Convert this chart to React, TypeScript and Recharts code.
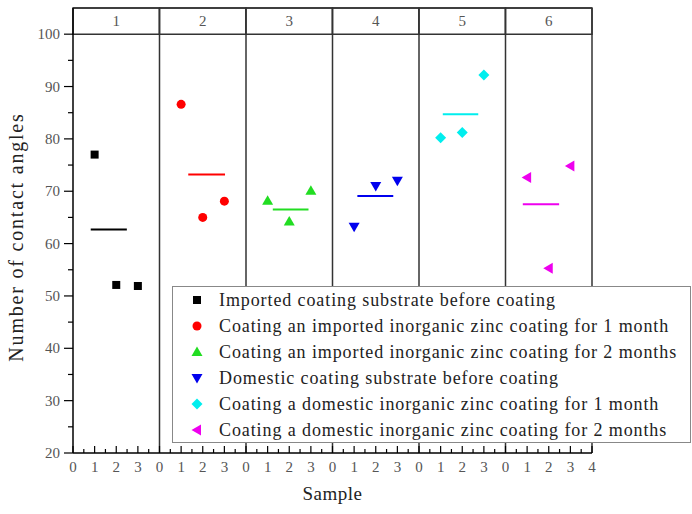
import {
	ScatterChart,
	Scatter,
	XAxis,
	YAxis,
	ReferenceLine,
	ReferenceArea,
	Legend,
} from "recharts";

const panels = ["1", "2", "3", "4", "5", "6"];
const sampleX = [1, 2, 3];

const seriesNames = [
	"Imported coating substrate before coating",
	"Coating an imported inorganic zinc coating for 1 month",
	"Coating an imported inorganic zinc coating for 2 months",
	"Domestic coating substrate before coating",
	"Coating a domestic inorganic zinc coating for 1 month",
	"Coating a domestic inorganic zinc coating for 2 months",
];
const seriesColors = ["#000000", "#ff0000", "#22dd22", "#0000ee", "#00eeee", "#ee00ee"];
const seriesShapes = ["square", "circle", "up", "down", "diamond", "left"];

const importedBefore = [77.0, 52.1, 51.9];
const imported1Month = [86.6, 65.0, 68.1];
const imported2Months = [68.2, 64.2, 70.1];
const domesticBefore = [63.2, 71.0, 72.0];
const domestic1Month = [80.2, 81.2, 92.2];
const domestic2Months = [72.6, 55.3, 74.8];
const seriesValues = [
	importedBefore,
	imported1Month,
	imported2Months,
	domesticBefore,
	domestic1Month,
	domestic2Months,
];

// mean bar per panel: value and where it starts/ends inside the panel (0-4)
const meanValues = [62.7, 73.2, 66.5, 69.1, 84.7, 67.5];
const meanStart = [0.82, 1.33, 1.24, 1.15, 1.1, 0.8];
const meanEnd = [2.49, 3.03, 2.89, 2.81, 2.74, 2.48];

const yTicks = [20, 25, 30, 35, 40, 45, 50, 55, 60, 65, 70, 75, 80, 85, 90, 95, 100];
const xTicks = Array.from({ length: 49 }, (_, i) => i / 2);

const PANEL = 4;
const serif = "'Liberation Serif', 'Times New Roman', Tinos, 'DejaVu Serif', 'Noto Serif', FreeSerif, serif";

function Marker({ cx, cy, shape, color }: any) {
	switch (shape) {
		case "square":
			return <rect x={cx - 4} y={cy - 4} width={8} height={8} fill={color} />;
		case "circle":
			return <circle cx={cx} cy={cy} r={4.5} fill={color} />;
		case "up":
			return <path d={`M${cx},${cy - 5.5} L${cx + 5.5},${cy + 4} L${cx - 5.5},${cy + 4} Z`} fill={color} />;
		case "down":
			return <path d={`M${cx},${cy + 5.5} L${cx + 5.5},${cy - 4} L${cx - 5.5},${cy - 4} Z`} fill={color} />;
		case "diamond":
			return <path d={`M${cx},${cy - 5.5} L${cx + 5.5},${cy} L${cx},${cy + 5.5} L${cx - 5.5},${cy} Z`} fill={color} />;
		default:
			return <path d={`M${cx - 5.5},${cy} L${cx + 4},${cy - 5.5} L${cx + 4},${cy + 5.5} Z`} fill={color} />;
	}
}

const XTick = ({ x, y, payload }: any) => {
	const v = payload.value;
	const major = Number.isInteger(v);
	const label = v === 24 ? "4" : String(v % PANEL);
	return (
		<g>
			<line x1={x} x2={x} y1={y} y2={y - (major ? 7 : 4)} stroke="#000" strokeWidth={1.2} />
			{major && (
				<text x={x} y={y + 19} textAnchor="middle" fontSize={15} fill="#555" fontFamily={serif}>
					{label}
				</text>
			)}
		</g>
	);
};

const YTick = ({ x, y, payload }: any) => {
	const v = payload.value;
	const major = v % 10 === 0;
	return (
		<g>
			<line x1={x} x2={x - (major ? 9 : 5)} y1={y} y2={y} stroke="#000" strokeWidth={1.2} />
			{major && (
				<text x={x - 13} y={y + 5} textAnchor="end" fontSize={15} fill="#555" fontFamily={serif}>
					{v}
				</text>
			)}
		</g>
	);
};

const LegendBox = () => (
	<div
		style={{
			background: "#fff",
			border: "1px solid #888",
			boxSizing: "border-box",
			width: 519,
			height: 157,
			padding: "0 0 0 14px",
			fontFamily: serif,
			fontSize: 18,
			letterSpacing: 0.9,
			color: "#222",
		}}
	>
		{seriesNames.map((name, i) => (
			<div key={name} style={{ display: "flex", alignItems: "center", height: 26 }}>
				<svg width={20} height={16} style={{ marginRight: 12, flex: "none" }}>
					<Marker cx={10} cy={8} shape={seriesShapes[i]} color={seriesColors[i]} />
				</svg>
				<span style={{ whiteSpace: "nowrap" }}>{name}</span>
			</div>
		))}
	</div>
);

export default function App() {
	return (
		<div style={{ position: "absolute", left: 0, top: 0 }}>
			<ScatterChart width={692} height={514} margin={{ top: 8, right: 100, bottom: 0, left: 0 }}>
				<XAxis
					type="number"
					dataKey="x"
					domain={[0, 24]}
					ticks={xTicks}
					interval={0}
					height={61}
					tickSize={0}
					tickMargin={0}
					tickLine={false}
					tick={<XTick />}
					axisLine={{ stroke: "#000", strokeWidth: 1.5 }}
					label={{
						content: ({ viewBox }: any) => (
							<text
								x={viewBox.x + viewBox.width / 2}
								y={viewBox.y + 47}
								textAnchor="middle"
								fontSize={19}
								letterSpacing={0.5}
								fill="#222"
								fontFamily={serif}
							>
								Sample
							</text>
						),
					}}
				/>
				<YAxis
					type="number"
					dataKey="y"
					domain={[20, 105]}
					ticks={yTicks}
					interval={0}
					width={73}
					tickSize={0}
					tickMargin={0}
					tickLine={false}
					tick={<YTick />}
					axisLine={{ stroke: "#000", strokeWidth: 1.5 }}
					label={{
						content: () => (
							<text
								x={0}
								y={0}
								transform="translate(23,237) rotate(-90)"
								textAnchor="middle"
								fontSize={20}
								letterSpacing={1.8}
								fill="#222"
								fontFamily={serif}
							>
								Number of contact angles
							</text>
						),
					}}
				/>
				{panels.map((p, i) => (
					<ReferenceArea
						key={p}
						x1={i * PANEL}
						x2={(i + 1) * PANEL}
						y1={100}
						y2={105}
						fill="#fff"
						fillOpacity={1}
						stroke="#333"
						strokeWidth={1.5}
						label={{ value: p, position: "center", fontSize: 15, fill: "#555", fontFamily: serif }}
					/>
				))}
				{[1, 2, 3, 4, 5, 6].map((k) => (
					<ReferenceLine key={k} x={k * PANEL} stroke="#333" strokeWidth={1.5} />
				))}
				<ReferenceLine y={105} stroke="#333" strokeWidth={1.5} />
				{meanValues.map((m, i) => (
					<ReferenceLine
						key={"mean" + i}
						segment={[
							{ x: i * PANEL + meanStart[i], y: m },
							{ x: i * PANEL + meanEnd[i], y: m },
						]}
						stroke={seriesColors[i]}
						strokeWidth={2}
					/>
				))}
				{seriesValues.map((vals, i) => (
					<Scatter
						key={seriesNames[i]}
						name={seriesNames[i]}
						data={sampleX.map((s, j) => ({ x: i * PANEL + s, y: vals[j] }))}
						fill={seriesColors[i]}
						isAnimationActive={false}
						shape={(props: any) => (
							<Marker cx={props.cx} cy={props.cy} shape={seriesShapes[i]} color={seriesColors[i]} />
						)}
					/>
				))}
				<Legend
					layout="vertical"
					align="center"
					verticalAlign="middle"
					content={<LegendBox />}
					wrapperStyle={{ left: 172, top: 286, width: 519, height: 157 }}
				/>
			</ScatterChart>
		</div>
	);
}
